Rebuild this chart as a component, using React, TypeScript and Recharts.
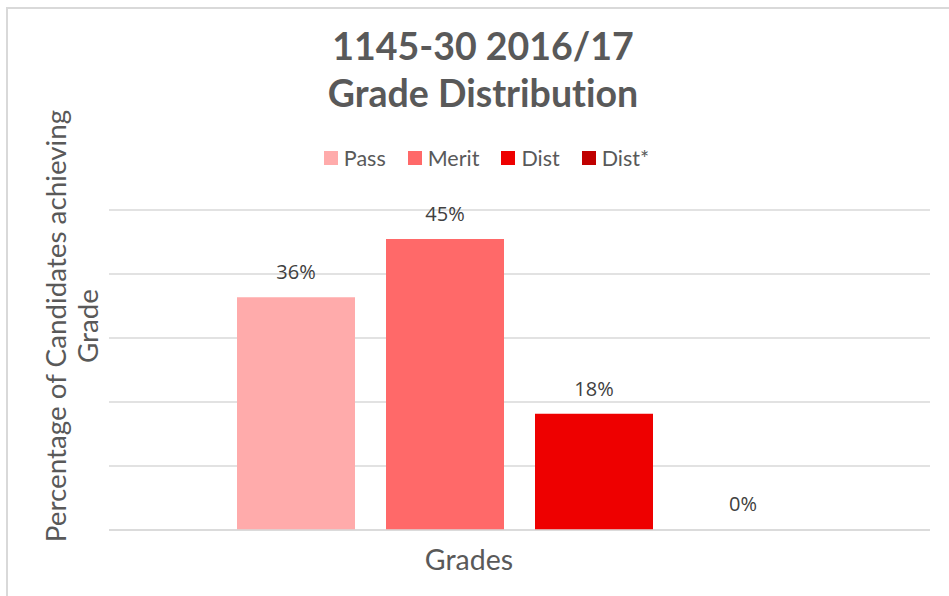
import React from "react";
import { BarChart, Bar, XAxis, YAxis, CartesianGrid, Legend, Rectangle } from "recharts";

const category = ["Grades"];
const seriesNames = ["Pass", "Merit", "Dist", "Dist*"];
const seriesValues = [36.36, 45.45, 18.18, 0];
const seriesColors = ["#FFABAB", "#FF6969", "#EE0000", "#C00000"];
const yTicks = [0, 10, 20, 30, 40, 50];
const titleLines = ["1145-30 2016/17", "Grade Distribution"];
const yLabelLines = ["Percentage of Candidates achieving", "Grade"];
const xLabel = "Grades";

const data = category.map((c) => {
  const row: Record<string, any> = { name: c };
  seriesNames.forEach((s, i) => (row[s] = seriesValues[i]));
  return row;
});

const FONT = "Lato, 'Open Sans', sans-serif";

const LegendContent = () => (
  <div style={{ display: "flex", justifyContent: "center", fontFamily: FONT, fontSize: 21.5, color: "#595959", paddingLeft: 24 }}>
    {seriesNames.map((s, i) => (
      <div key={s} style={{ display: "flex", alignItems: "center", marginRight: i < seriesNames.length - 1 ? 22 : 0 }}>
        <div style={{ width: 14, height: 14, background: seriesColors[i], marginRight: 6 }} />
        <span>{s}</span>
      </div>
    ))}
  </div>
);

const ValueLabel = (props: any) => {
  const { x, y, width, value } = props;
  return (
    <text
      x={x + width / 2}
      y={y - 18}
      textAnchor="middle"
      fontFamily="'Open Sans', sans-serif"
      fontSize={20}
      fill="#404040"
    >
      {`${Math.round(Number(value))}%`}
    </text>
  );
};

const BarShape = (props: any) => {
  if (!props.value) return null;
  return <Rectangle {...props} />;
};

export default function App() {
  return (
    <div style={{ position: "absolute", left: 0, top: 0, width: 949, height: 596, overflow: "hidden", background: "#fff" }}>
      <div style={{ position: "absolute", left: 6, top: 7, width: 1000, height: 1000, border: "2px solid #D9D9D9", boxSizing: "border-box" }} />
      <div style={{ position: "absolute", left: 0, top: 0 }}>
        <BarChart
          width={949}
          height={596}
          data={data}
          margin={{ top: 210, right: 19, bottom: 26, left: 0 }}
          barCategoryGap={128}
          barGap={31}
        >
          <text textAnchor="middle" fontFamily={FONT} fontWeight={700} fontSize={37.5} fill="#595959" style={{ fontVariantLigatures: "none" }}>
            <tspan x={483} y={60}>{titleLines[0]}</tspan>
            <tspan x={483} y={107}>{titleLines[1]}</tspan>
          </text>
          <text transform="rotate(-90 66 326)" x={66} y={326} textAnchor="middle" fontFamily={FONT} fontSize={27.8} fill="#595959" style={{ fontVariantLigatures: "none" }}>
            {yLabelLines[0]}
          </text>
          <text transform="rotate(-90 98 326)" x={98} y={326} textAnchor="middle" fontFamily={FONT} fontSize={27.8} fill="#595959">
            {yLabelLines[1]}
          </text>
          <text x={469} y={570} textAnchor="middle" fontFamily={FONT} fontSize={28.5} fill="#595959">
            {xLabel}
          </text>
          <CartesianGrid horizontal vertical={false} stroke="#D9D9D9" strokeWidth={1.5} />
          <XAxis dataKey="name" height={40} tick={false} tickLine={false} axisLine={{ stroke: "#D9D9D9", strokeWidth: 1.5 }} />
          <YAxis width={109} domain={[0, 50]} ticks={yTicks} tickFormatter={() => ""} tickLine={false} axisLine={false} />
          <Legend verticalAlign="middle" layout="horizontal" align="center" content={<LegendContent />} wrapperStyle={{ top: 145, left: 0, width: 949 }} />
          {seriesNames.map((s, i) => (
            <Bar
              key={s}
              dataKey={s}
              fill={seriesColors[i]}
              isAnimationActive={false}
              minPointSize={1}
              shape={<BarShape />}
              label={<ValueLabel />}
            />
          ))}
        </BarChart>
      </div>
    </div>
  );
}
